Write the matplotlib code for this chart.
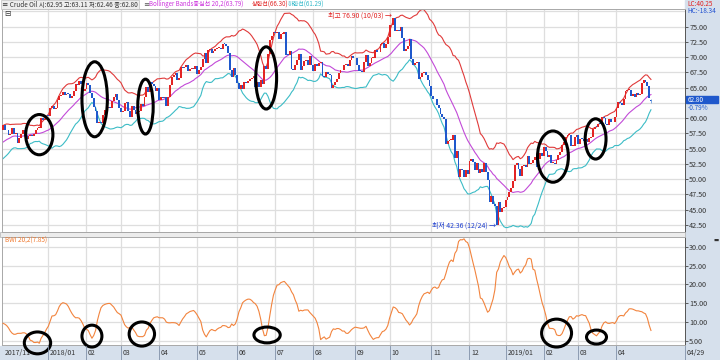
import matplotlib.pyplot as plt
import matplotlib.transforms as mtransforms
from matplotlib.patches import Ellipse, Rectangle
import numpy as np
import pandas as pd

plt.rcParams['font.family'] = ['Noto Sans CJK KR', 'DejaVu Sans']

# daily closes (Crude Oil)
warmup_close = [53.90, 54.15, 54.38, 54.30, 54.54, 55.64, 57.35, 57.20, 56.81, 57.17,
                56.74, 56.76, 55.70, 55.33, 55.14, 56.55, 56.09, 56.83, 58.02]
nov17 = [58.95, 58.11, 57.99, 57.30, 57.40]
dec17 = [58.36, 57.47, 57.62, 55.96, 56.69, 57.36, 57.99, 57.14, 56.60, 57.04,
         57.30, 57.16, 57.46, 58.09, 58.36, 58.47, 59.97, 59.64, 59.84, 60.42]
jan18 = [60.37, 61.63, 62.01, 61.44, 61.73, 62.96, 63.57, 63.80, 64.30, 63.73,
         63.97, 63.95, 63.37, 63.57, 64.47, 65.61, 65.51, 66.14, 65.56, 64.50, 64.73]
feb18 = [65.80, 65.45, 64.15, 63.39, 61.79, 61.15, 59.20, 59.29, 59.19, 60.60,
         61.34, 61.68, 61.90, 61.68, 62.77, 63.55, 63.91, 63.01, 61.64]
mar18 = [60.99, 61.25, 62.57, 62.60, 61.15, 60.12, 62.04, 61.36, 60.71, 60.96,
         61.19, 62.34, 62.06, 63.40, 65.17, 64.30, 65.88, 65.55, 65.25, 64.38, 64.94]
apr18 = [63.01, 63.51, 63.37, 63.54, 62.06, 63.42, 65.51, 66.82, 67.07, 67.39,
         66.22, 66.52, 68.47, 68.29, 68.38, 68.64, 67.70, 68.05, 68.19, 68.10, 68.57]
may18 = [67.25, 67.93, 68.43, 69.72, 70.73, 69.06, 71.14, 71.36, 70.70, 70.96, 71.31,
         71.49, 71.49, 71.28, 72.24, 72.13, 71.84, 70.71, 67.88, 66.73, 68.21, 67.04]
jun18 = [65.81, 64.75, 65.52, 64.73, 65.95, 65.74, 66.10, 66.36, 66.64, 66.89,
         65.06, 65.85, 65.07, 66.22, 65.54, 68.58, 68.08, 70.53, 72.76, 73.45, 74.15]
jul18 = [73.94, 74.14, 72.94, 73.80, 73.85, 74.11, 70.38, 70.33, 71.01, 68.06,
         67.95, 68.76, 69.46, 70.46, 67.89, 68.52, 69.30, 69.61, 68.69, 70.13, 68.76]
aug18 = [67.66, 68.96, 68.49, 69.01, 69.17, 66.94, 66.81, 67.63, 67.20, 67.04, 65.01, 65.46,
         65.91, 66.43, 67.35, 67.86, 67.83, 68.72, 68.87, 68.53, 69.51, 70.25, 69.80]
sep18 = [69.87, 68.72, 67.77, 67.75, 67.54, 69.25, 70.37, 68.59, 68.99, 69.85,
         69.85, 71.12, 70.80, 70.78, 72.08, 72.28, 71.57, 72.12, 73.25]
oct18 = [75.30, 75.23, 76.41, 74.33, 74.34, 74.29, 74.96, 73.17, 70.97, 71.34, 71.78, 72.92,
         69.75, 68.65, 69.12, 69.17, 66.43, 66.82, 67.33, 67.59, 67.04, 66.18, 65.31]
nov18 = [63.69, 63.14, 63.10, 62.21, 61.67, 60.67, 60.19, 59.93, 55.69, 56.25,
         56.46, 56.46, 57.20, 53.43, 54.63, 50.42, 51.63, 51.56, 50.29, 51.45, 50.93]
dec18 = [52.95, 53.25, 52.89, 51.49, 52.61, 51.00, 51.65, 51.15, 52.58, 51.20,
         49.88, 46.24, 47.20, 45.88, 45.59, 42.53, 46.22, 44.61, 45.33, 45.41]
jan19 = [46.54, 47.09, 47.96, 48.52, 49.78, 52.36, 52.59, 51.59, 50.51, 52.11,
         52.31, 52.07, 53.80, 52.57, 52.62, 53.13, 53.69, 51.99, 53.31, 54.23, 53.79]
feb19 = [55.26, 54.56, 53.66, 54.01, 52.64, 52.72, 52.41, 53.10, 53.90, 54.41,
         55.59, 56.09, 56.92, 57.26, 57.26, 55.48, 55.50, 56.94, 57.22]
mar19 = [55.80, 56.59, 56.56, 56.22, 56.66, 56.07, 56.79, 56.87, 58.26, 58.61,
         58.52, 59.09, 59.03, 60.23, 59.98, 59.04, 58.82, 59.94, 59.41, 59.30, 60.14]
apr19 = [61.59, 62.58, 62.46, 62.10, 63.08, 64.40, 64.61, 64.61, 63.58, 63.89,
         63.40, 64.05, 63.76, 64.00, 65.70, 66.30, 65.89, 65.21, 63.30, 62.80]
last_open, last_high, last_low = 62.95, 63.11, 62.46

holidays = ['2017-12-25', '2018-01-01', '2018-01-15', '2018-02-19', '2018-03-30',
            '2018-05-28', '2018-07-04', '2018-09-03', '2018-11-22', '2018-12-25',
            '2019-01-01', '2019-01-21', '2019-02-18', '2019-04-19']

# hand-drawn ellipses: (day index, value, width in days, height in value units)
price_marks = [(20, 57.3, 15, 6.6), (50.5, 63.1, 14, 12.3), (78.5, 61.9, 8.5, 9.0),
               (145, 66.6, 11.5, 10.2), (303, 53.7, 17, 8.4), (326.5, 56.6, 11.5, 6.6)]
bwi_marks = [(19, 4.5, 14.5, 5.8), (49, 6.3, 11, 5.8), (76.5, 6.85, 14, 6.4),
             (145.5, 6.6, 14.5, 4.2), (305, 7.1, 16.5, 7.4), (327, 6.05, 11, 3.7)]

closes = np.array(nov17 + dec17 + jan18 + feb18 + mar18 + apr18 + may18 + jun18 + jul18
                  + aug18 + sep18 + oct18 + nov18 + dec18 + jan19 + feb19 + mar19 + apr19)
dates = pd.bdate_range('2017-11-24', '2019-04-29', freq='C', holidays=holidays)
n = len(closes)
x = np.arange(n)

# Bollinger Bands 20,2 and band width index
allc = pd.Series(warmup_close + list(closes))
mid = allc.rolling(20).mean()
sd = allc.rolling(20).std(ddof=0)
upper = (mid + 2 * sd).values[len(warmup_close):]
lower = (mid - 2 * sd).values[len(warmup_close):]
mid = mid.values[len(warmup_close):]
bwi = (upper - lower) / mid * 100

opens = np.concatenate([[warmup_close[-1]], closes[:-1]])
opens[-1] = last_open

W, H = 720, 360
fig = plt.figure(figsize=(7.2, 3.6), dpi=100)


def px_axes(l, t, r, b):
    return fig.add_axes([l / W, 1 - b / H, (r - l) / W, (b - t) / H])


bg = '#d6e0ec'
fig.add_artist(Rectangle((685 / W, 0), 35 / W, 1, transform=fig.transFigure, color=bg, zorder=0))
fig.add_artist(Rectangle((0, 0), 1, 14 / H, transform=fig.transFigure, color=bg, zorder=0))
fig.add_artist(Rectangle((0, 1 - 237 / H), 685 / W, 5 / H, transform=fig.transFigure,
                         facecolor='#ececec', edgecolor='#b0b0b0', lw=0.5, zorder=0))

ax1 = px_axes(2, 9, 685, 232)
ax2 = px_axes(2, 237, 685, 345)
px_per_day = 1.815
xl = (-1 / px_per_day, (685 - 3) / px_per_day)

month_idx = [i for i in range(1, n) if dates[i].month != dates[i - 1].month]
month_idx = [i for i in month_idx if not (dates[i].year == 2017)]

for ax in (ax1, ax2):
    ax.set_xlim(*xl)
    for i in month_idx:
        ax.axvline(i, color='#dedede', lw=0.9, zorder=0)
    ax.set_xticks([])
    for s in ('left', 'top', 'bottom'):
        ax.spines[s].set_color('#a8a8a8')
        ax.spines[s].set_linewidth(0.7)
    ax.spines['right'].set_linestyle((0, (1, 1)))
    ax.spines['right'].set_color('#555555')
    ax.spines['right'].set_linewidth(0.7)
    ax.yaxis.tick_right()
    ax.tick_params(axis='y', labelsize=5.2, length=2, width=0.6, pad=1,
                   colors='#444444', labelcolor='#333333')

# price panel (62.50 label sits under the last-price box)
ax1.set_ylim(41.34, 77.9)
pticks = [v for v in np.arange(42.5, 75.01, 2.5) if v != 62.5]
ax1.set_yticks(pticks)
ax1.set_yticklabels(['%.2f' % v for v in pticks])
for v in np.arange(42.5, 77.6, 2.5):
    ax1.axhline(v, color='#dedede', lw=0.9, zorder=0)

up = closes >= opens
body = np.abs(closes - opens)
body = np.maximum(body, 0.12)
bottoms = np.minimum(opens, closes)
ax1.bar(x[up], body[up], bottom=bottoms[up], width=1.0, color='#e32424', lw=0, zorder=3)
ax1.bar(x[~up], body[~up], bottom=bottoms[~up], width=1.0, color='#1f58cc', lw=0, zorder=3)
ax1.vlines(x[-1], last_low, last_high, color='#6fa0e0', lw=0.6, zorder=3)

ax1.plot(x, upper, color='#e03a3a', lw=0.8, zorder=2)
ax1.plot(x, mid, color='#c24ad8', lw=0.8, zorder=2)
ax1.plot(x, lower, color='#3cbcc6', lw=0.8, zorder=2)

imax = int(np.argmax(closes[150:250])) + 150
imin = int(np.argmin(closes))
ax1.text(imax - 0.5, 76.85, '최고 76.90 (10/03) →', color='#e02020', fontsize=5.0,
         ha='right', va='center', zorder=5)
ax1.text(imin - 0.5, 42.45, '최저 42.36 (12/24) →', color='#1f3fcf', fontsize=5.0,
         ha='right', va='center', zorder=5)

for cx, cy, w, h in price_marks:
    ax1.add_patch(Ellipse((cx, cy), w, h, fill=False, ec='black', lw=2.2,
                          zorder=6, clip_on=False))

# BWI panel
ax2.set_ylim(3.94, 32.57)
bticks = np.arange(5, 30.01, 5)
ax2.set_yticks(bticks)
ax2.set_yticklabels(['%.2f' % v for v in bticks])
for v in bticks:
    ax2.axhline(v, color='#dedede', lw=0.9, zorder=0)
ax2.plot(x, bwi, color='#f2843e', lw=0.8, zorder=3)
for cx, cy, w, h in bwi_marks:
    ax2.add_patch(Ellipse((cx, cy), w, h, fill=False, ec='black', lw=2.2,
                          zorder=6, clip_on=False))

# month labels in bottom strip
trans = mtransforms.blended_transform_factory(ax2.transData, fig.transFigure)
for i in [0] + month_idx:
    d = dates[i]
    lab = d.strftime('%Y/%m') if (i == 0 or d.month == 1) else d.strftime('%m')
    if i > 0:
        fig.add_artist(plt.Line2D([i, i], [0, 14 / H], transform=trans, color='#8090a8', lw=0.6))
    ax2.text(i + 0.9, 7 / H, lab, transform=trans, fontsize=5.0, color='#333333',
             va='center', ha='left', clip_on=False)
fig.add_artist(plt.Line2D([685 / W, 685 / W], [0, 14 / H], transform=fig.transFigure,
                          color='#8090a8', lw=0.6))
fig.text(687 / W, 7 / H, '04/29', fontsize=5.0, color='#333333', va='center', ha='left')


# header / legend texts
def ftxt(px, py, s, fs=4.6, **kw):
    fig.text(px / W, 1 - py / H, s, fontsize=fs, va='center', ha='left', **kw)


ftxt(2, 4.5, '≡ Crude Oil 시:62.95 고:63.11 저:62.46 종:62.80', color='#333333',
     bbox=dict(boxstyle='square,pad=0.15', fc='#eeeeee', ec='#c0c0c0', lw=0.5))
ftxt(143, 4.5, '≡', color='#555555')
ftxt(149, 4.5, 'Bollinger Bands중심선 20,2(63.79)', fs=4.4, color='#cc33dd')
ftxt(252, 4.5, '상한선(66.30)', fs=4.4, color='#e02020')
ftxt(288, 4.5, '하한선(61.29)', fs=4.4, color='#30b8c8')
ftxt(4, 14.5, '⊟', fs=5.5, color='#333333')
ftxt(5, 241, 'BWI 20,2(7.85)', color='#f07a30')
ftxt(713, 240, '▬', fs=4, color='#333333')
ftxt(687, 4.5, 'LC:40.25', color='#e02020')
ftxt(687, 11, 'HC:-18.34', color='#2050d0')

fig.add_artist(Rectangle((686 / W, 1 - 103 / H), 32 / W, 7 / H, transform=fig.transFigure,
                         color='#1f58cc', zorder=4))
ftxt(688, 99.5, '62.80', fs=4.6, color='white', zorder=5)
ftxt(688, 107.5, '-0.79%', fs=4.6, color='#1f58cc')

fig.savefig('out.png', dpi=100)
